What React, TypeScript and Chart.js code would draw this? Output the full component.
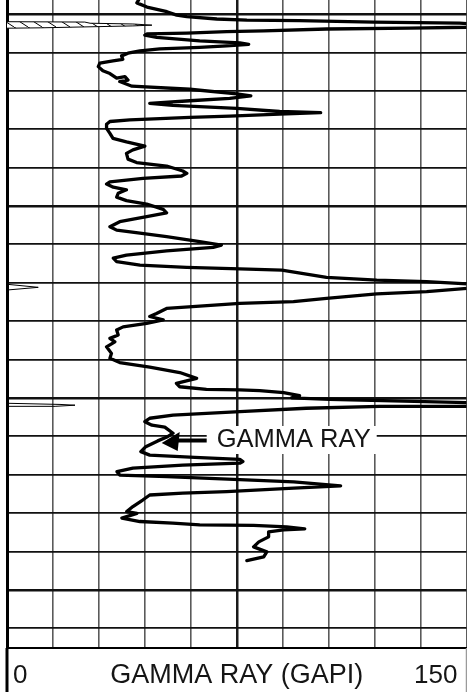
import React, { useEffect, useRef } from 'react';
import { Chart, registerables } from 'chart.js';

Chart.register(...registerables);

// ---- Gamma ray curve (GAPI) vs depth (ft) ----
const GR_CURVE: number[] = [
  43.7, 42.4, 45.7, 52.2, 55.4, 58.7, 68.5, 78.3, 95.5, 119.7,
  147.7, 154.2, 154.2, 131.4, 104.3, 83.8, 71.7, 58.7, 45.7, 45.0,
  48.9, 62.9, 76.0, 78.9, 71.7, 62.9, 49.9, 43.4, 39.5, 37.4,
  37.8, 34.6, 30.3, 29.8, 31.3, 33.6, 35.8, 38.5, 39.5, 36.8,
  40.8, 59.7, 75.0, 79.6, 72.7, 59.7, 46.6, 54.1, 75.0, 89.0,
  102.4, 89.0, 72.7, 59.7, 40.1, 33.6, 32.5, 32.5, 33.6, 34.6,
  39.0, 45.0, 41.1, 39.0, 39.5, 42.3, 52.1, 57.4, 58.7, 57.0,
  44.4, 33.6, 32.5, 34.7, 39.0, 36.3, 35.8, 39.0, 45.6, 51.0,
  52.1, 45.6, 36.8, 33.6, 35.8, 43.4, 52.1, 62.9, 70.0, 67.3,
  52.1, 39.0, 34.7, 35.8, 43.4, 58.6, 76.0, 89.7, 104.3, 120.7,
  137.0, 154.2, 154.2, 137.0, 120.7, 104.3, 93.5, 76.0, 62.9, 52.1,
  48.8, 46.6, 51.0, 45.6, 37.9, 35.8, 36.3, 33.6, 35.2, 32.5,
  34.1, 33.6, 36.8, 46.6, 56.4, 61.9, 55.3, 56.4, 65.1, 76.0,
  82.5, 90.3, 95.5, 92.9, 105.3, 154.2, 154.2, 121.6, 97.7, 76.0,
  54.2, 46.6, 45.0, 47.3, 51.5, 54.2, 52.2, 49.2, 45.3, 43.7,
  46.6, 61.3, 76.0, 77.0, 76.0, 57.4, 41.1, 35.9, 36.8, 52.2,
  76.0, 93.6, 108.9, 93.6, 71.7, 57.4, 46.6, 44.3, 41.1, 39.1,
  42.4, 37.5, 43.4, 54.1, 62.9, 80.5, 91.3, 97.2, 90.3, 85.4,
  85.4, 82.2, 80.5, 84.8, 83.8, 78.3,
];

const DEPTH_CURVE: number[] = [
  4995.3, 4997.1, 4998.2, 4999.4, 5000.3, 5000.7, 5001.3, 5001.6, 5001.7, 5002.1,
  5002.4, 5002.7, 5003.4, 5003.7, 5003.9, 5004.4, 5004.6, 5005.0, 5005.2, 5005.5,
  5006.1, 5007.0, 5007.5, 5007.9, 5008.3, 5008.7, 5009.1, 5009.6, 5010.2, 5010.9,
  5011.8, 5012.2, 5012.8, 5013.7, 5014.8, 5015.5, 5016.7, 5016.3, 5017.2, 5017.6,
  5018.8, 5019.6, 5020.8, 5021.3, 5022.0, 5022.6, 5023.3, 5023.8, 5024.6, 5025.4,
  5025.7, 5026.1, 5026.6, 5026.9, 5027.6, 5028.0, 5028.7, 5029.8, 5031.1, 5032.4,
  5033.3, 5034.4, 5035.4, 5036.3, 5037.8, 5038.7, 5039.6, 5040.9, 5041.5, 5042.2,
  5042.8, 5043.7, 5044.3, 5045.1, 5045.8, 5046.7, 5047.7, 5048.6, 5049.5, 5050.9,
  5051.8, 5052.8, 5054.1, 5055.4, 5056.3, 5057.1, 5058.0, 5059.3, 5060.2, 5060.8,
  5061.7, 5062.8, 5063.6, 5064.5, 5065.4, 5066.0, 5066.4, 5066.7, 5068.6, 5069.3,
  5069.7, 5070.5, 5071.2, 5072.3, 5072.9, 5074.1, 5074.9, 5075.4, 5076.1, 5076.7,
  5078.0, 5078.8, 5079.7, 5080.6, 5081.5, 5082.3, 5083.6, 5084.5, 5085.4, 5086.7,
  5088.4, 5089.7, 5090.8, 5092.0, 5093.4, 5094.9, 5096.2, 5097.1, 5097.8, 5097.9,
  5098.1, 5098.6, 5099.4, 5100.0, 5100.4, 5101.3, 5102.2, 5102.2, 5102.7, 5103.6,
  5104.5, 5105.3, 5106.2, 5107.1, 5107.6, 5109.2, 5110.2, 5111.2, 5112.7, 5114.0,
  5114.9, 5115.5, 5116.0, 5116.6, 5117.0, 5117.5, 5118.3, 5119.2, 5120.1, 5120.5,
  5121.3, 5121.9, 5122.9, 5123.5, 5124.4, 5124.8, 5125.3, 5126.6, 5128.3, 5129.6,
  5130.1, 5131.3, 5132.2, 5132.6, 5133.1, 5133.2, 5133.6, 5134.1, 5134.4, 5134.9,
  5136.2, 5137.5, 5138.8, 5140.1, 5141.4, 5142.4,
];

// ---- thin secondary trace (three small excursions from the left edge) ----
const TRACE1_GR: number[] = [0, 25.4, 27.1, 41.1, 47.3, 41.1, 10.8, 0];
const TRACE1_DEPTH: number[] = [5002.0, 5002.1, 5002.4, 5002.6, 5002.9, 5003.1, 5003.6, 5003.7];
const TRACE2_GR: number[] = [0, 10.2, 0];
const TRACE2_DEPTH: number[] = [5070.4, 5071.2, 5071.9];
const TRACE3_GR: number[] = [0, 17.3, 22.2, 15.7, 0];
const TRACE3_DEPTH: number[] = [5101.4, 5101.7, 5101.9, 5102.2, 5102.2];

// ---- axes ----
const GR_MIN = 0;
const GR_MAX = 150;
const GR_STEP = 15;
const DEPTH_TOP = 4996.35;
const DEPTH_BOTTOM = 5165.15;
const DEPTH_STEP = 10;
const AXIS_LABELS: string[] = ['0', 'GAMMA RAY (GAPI)', '150'];
const CURVE_LABEL = 'GAMMA RAY';
const ARROW_TIP_GR = 50.5;
const ARROW_TIP_DEPTH = 5111.75;

const FONT = '"Liberation Sans", Arial, Helvetica, sans-serif';

function toPoints(xs: number[], ys: number[]) {
  return xs.map((x, i) => ({ x, y: ys[i] }));
}

function makeHatch(): CanvasPattern | string {
  const c = document.createElement('canvas');
  c.width = 14;
  c.height = 9;
  const g = c.getContext('2d');
  if (!g) return '#fff';
  g.fillStyle = '#fff';
  g.fillRect(0, 0, 14, 9);
  g.strokeStyle = '#000';
  g.lineWidth = 1;
  g.beginPath();
  g.moveTo(0, 0);
  g.lineTo(14, 9);
  g.stroke();
  return g.createPattern(c, 'repeat') || '#fff';
}

const decorPlugin = {
  id: 'decor',
  afterDraw(chart: any) {
    const { ctx, chartArea: ca, scales } = chart;
    const H = chart.height;
    ctx.save();
    // track borders continue through the label strip
    ctx.strokeStyle = '#000';
    ctx.lineWidth = 3;
    ctx.beginPath();
    ctx.moveTo(ca.left, ca.bottom);
    ctx.lineTo(ca.left, H);
    ctx.stroke();
    ctx.strokeStyle = '#9a9a9a';
    ctx.lineWidth = 1.5;
    ctx.beginPath();
    ctx.moveTo(ca.right, ca.bottom);
    ctx.lineTo(ca.right, H);
    ctx.stroke();

    // scale labels
    ctx.fillStyle = '#151515';
    ctx.textBaseline = 'alphabetic';
    const base = ca.bottom + 35;
    ctx.font = '26px ' + FONT;
    ctx.textAlign = 'left';
    ctx.fillText(AXIS_LABELS[0], ca.left + 6, base);
    ctx.textAlign = 'right';
    ctx.fillText(AXIS_LABELS[2], ca.right - 9, base);
    ctx.font = '27px ' + FONT;
    ctx.textAlign = 'center';
    ctx.fillText(AXIS_LABELS[1], (ca.left + ca.right) / 2, base);

    // curve annotation
    const tx = scales.x.getPixelForValue(ARROW_TIP_GR);
    const ty = scales.y.getPixelForValue(ARROW_TIP_DEPTH);
    ctx.fillStyle = '#fff';
    ctx.fillRect(tx + 45, ty - 17, 170, 28);
    ctx.strokeStyle = '#000';
    ctx.lineWidth = 4;
    ctx.beginPath();
    ctx.moveTo(tx + 13, ty - 2.5);
    ctx.lineTo(tx + 45, ty - 2.5);
    ctx.stroke();
    ctx.fillStyle = '#000';
    ctx.beginPath();
    ctx.moveTo(tx, ty);
    ctx.lineTo(tx + 18, ty - 11);
    ctx.lineTo(tx + 16, ty + 8);
    ctx.closePath();
    ctx.fill();
    ctx.fillStyle = '#151515';
    ctx.font = '25.5px ' + FONT;
    ctx.textAlign = 'left';
    ctx.fillText(CURVE_LABEL, tx + 55, ty + 4);
    ctx.restore();
  },
};

export default function App() {
  const ref = useRef<HTMLCanvasElement>(null);

  useEffect(() => {
    if (!ref.current) return;
    const hatch = makeHatch();
    const thin = {
      borderColor: '#000',
      borderWidth: 1,
      pointRadius: 0,
      showLine: true,
      fill: false,
    };
    const chart = new Chart(ref.current, {
      type: 'scatter',
      data: {
        datasets: [
          {
            ...thin,
            data: toPoints(TRACE1_GR, TRACE1_DEPTH),
            fill: 'shape',
            backgroundColor: hatch,
          } as any,
          { ...thin, data: toPoints(TRACE2_GR, TRACE2_DEPTH), backgroundColor: '#fff' } as any,
          { ...thin, data: toPoints(TRACE3_GR, TRACE3_DEPTH) } as any,
          {
            data: toPoints(GR_CURVE, DEPTH_CURVE),
            showLine: true,
            borderColor: '#000',
            borderWidth: 3.3,
            pointRadius: 0,
            borderJoinStyle: 'round',
            borderCapStyle: 'round',
            tension: 0,
            fill: false,
          } as any,
        ],
      },
      options: {
        animation: false,
        responsive: false,
        devicePixelRatio: 1,
        layout: { padding: { left: 7, right: 0.5, top: 0, bottom: 44 } },
        plugins: {
          legend: { display: false },
          tooltip: { enabled: false },
        },
        scales: {
          x: {
            type: 'linear',
            position: 'bottom',
            min: GR_MIN,
            max: GR_MAX,
            ticks: { display: false, stepSize: GR_STEP },
            grid: {
              drawTicks: false,
              color: (c: any) =>
                c.tick && c.tick.value === GR_MIN
                  ? 'rgba(0,0,0,0)'
                  : c.tick && c.tick.value === (GR_MIN + GR_MAX) / 2
                  ? '#1a1a1a'
                  : '#5a5a5a',
              lineWidth: (c: any) =>
                c.tick && c.tick.value === (GR_MIN + GR_MAX) / 2 ? 2.5 : 1.6,
            },
            border: { display: true, color: '#000', width: 2 },
          },
          y: {
            type: 'linear',
            position: 'left',
            reverse: true,
            min: DEPTH_TOP,
            max: DEPTH_BOTTOM,
            ticks: { display: false, stepSize: DEPTH_STEP, includeBounds: false },
            grid: {
              drawTicks: false,
              color: '#111',
              lineWidth: (c: any) =>
                c.tick && Math.round(c.tick.value) % 50 === 0 ? 2.5 : 1.8,
            },
            border: { display: true, color: '#000', width: 3 },
          },
        },
      },
      plugins: [decorPlugin],
    } as any);
    return () => chart.destroy();
  }, []);

  return (
    <div
      style={{
        position: 'absolute',
        left: 0,
        top: 0,
        width: 467,
        height: 692,
        background: '#fff',
      }}
    >
      <canvas ref={ref} width={467} height={692} style={{ display: 'block', width: 467, height: 692 }} />
    </div>
  );
}
